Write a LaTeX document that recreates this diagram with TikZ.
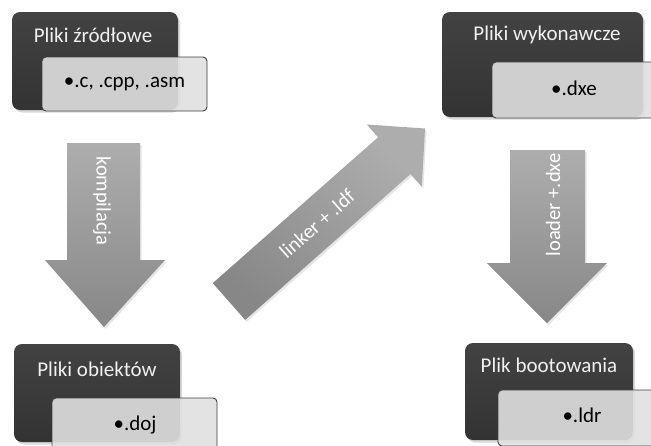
\documentclass[tikz,border=0pt]{standalone}
\usepackage{fontspec}
\setmainfont{Carlito}
\usetikzlibrary{shadows}
\definecolor{lightfill}{HTML}{E0E0E0}
\definecolor{lightborder}{HTML}{404040}
\begin{document}
\begin{tikzpicture}[x=1pt,y=-1pt,
  txt/.style={font=\fontsize{21}{25}\selectfont},
  darkbox/.style={rectangle, rounded corners=8pt, top color=black!74, bottom color=black!80,
    inner sep=0pt, drop shadow={opacity=0.3, shadow xshift=2pt, shadow yshift=-2.5pt}},
  lightbox/.style={rectangle, rounded corners=4pt, draw=lightborder, line width=0.9pt,
    fill=lightfill, fill opacity=0.9, text opacity=1, inner sep=0pt, txt, text=black},
  titletxt/.style={txt, text=white!94!black, anchor=center},
  arrowfill/.style={top color=black!32, bottom color=black!47,
    drop shadow={opacity=0.2, shadow xshift=1.5pt, shadow yshift=-2pt}},
  arrowtxt/.style={font=\fontsize{20.5}{24}\selectfont, text=white, inner sep=0pt}]
\useasboundingbox (0,0) rectangle (651,445);
\clip (0,0) rectangle (651,445);
% arrows
\path[arrowfill] (67,143) -- (140,143) -- (140,260) -- (165,260) -- (104,327) -- (45,260) -- (67,260) -- cycle;
\path[arrowfill] (510,150) -- (585,150) -- (585,263) -- (607,263) -- (547,323) -- (487,263) -- (510,263) -- cycle;
\path[arrowfill, shading angle=-41] (212.8,283.1) -- (378.1,137.2) -- (366.8,124.5) -- (425,128.5) -- (421.8,186.7) -- (410.5,174.0) -- (245.2,319.9) -- cycle;
\node[arrowtxt, rotate=-90] (komp) at (102,201) {kompilacja};
\node[arrowtxt, rotate=90] (load) at (553,205) {loader +.dxe};
\node[arrowtxt, rotate=41.4] (link) at (317,224) {linker + .ldf};
% boxes
\node[darkbox, minimum width=166, minimum height=98] (src) at (95,61) {};
\node[titletxt] (srct) at (93,35) {Pliki źródłowe};
\node[lightbox, minimum width=165, minimum height=54] (srcf) at (124.5,84) {•.c, .cpp, .asm};

\node[darkbox, minimum width=201, minimum height=105] (exe) at (542.5,64.5) {};
\node[titletxt] (exet) at (547,35) {Pliki wykonawcze};
\node[lightbox, minimum width=165, minimum height=56] (exef) at (574.5,90) {};
\node[txt] (exetx) at (574,88) {•.dxe};

\node[darkbox, minimum width=166, minimum height=98] (obj) at (97,393) {};
\node[titletxt] (objt) at (97,369) {Pliki obiektów};
\node[lightbox, minimum width=165, minimum height=54] (objf) at (134.5,425) {};
\node[txt] (objtx) at (135,425) {•.doj};

\node[darkbox, minimum width=168, minimum height=97] (boot) at (549,391.5) {};
\node[titletxt] (boott) at (549,365) {Plik bootowania};
\node[lightbox, minimum width=165, minimum height=56] (bootf) at (580.5,418) {};
\node[txt] (boottx) at (582,415) {•.ldr};
\end{tikzpicture}
\end{document}
